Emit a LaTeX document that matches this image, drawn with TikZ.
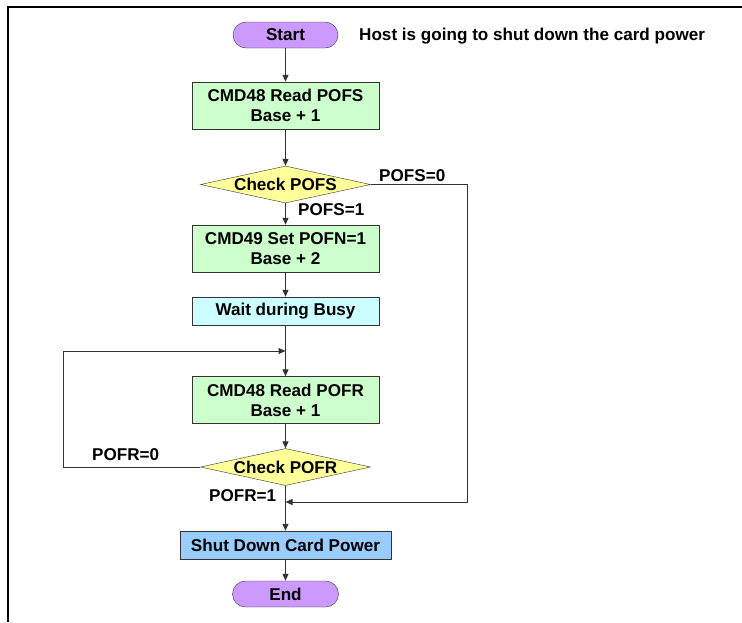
\documentclass[tikz,border=0pt]{standalone}
\usepackage{fontspec}
\setmainfont{Liberation Sans}
\usepackage{tikz}
\usetikzlibrary{arrows.meta,shapes.geometric}
\definecolor{uclarMor}{HTML}{CC99FF}
\definecolor{adimYesil}{HTML}{CCFFCC}
\definecolor{kararSari}{HTML}{FFFF99}
\definecolor{beklemeCamgobegi}{HTML}{CCFFFF}
\definecolor{gucMavi}{HTML}{99CCFF}
\definecolor{cizgiGri}{HTML}{333333}

\begin{document}
\begin{tikzpicture}[x=1pt,y=-1pt,
  yazi/.style={font=\bfseries\fontsize{17.1}{20}\selectfont,text=black},
  uc/.style={yazi,draw=cizgiGri,fill=uclarMor,rounded corners=13pt,
             minimum width=105pt,minimum height=26pt,inner sep=0pt},
  adim/.style={yazi,draw=cizgiGri,fill=adimYesil,minimum width=187pt,
               minimum height=47pt,inner sep=0pt,align=center},
  bekle/.style={adim,fill=beklemeCamgobegi,minimum height=28pt},
  karar/.style={yazi,diamond,draw=cizgiGri,fill=kararSari,aspect=4.6,
                inner sep=0pt,minimum width=170pt,minimum height=37pt},
  etiket/.style={yazi,inner sep=0pt,anchor=west},
  ok/.style={-{Triangle[length=7pt,width=6pt]},line width=1pt,cizgiGri}]
\useasboundingbox (0,0) rectangle (742,622);
\draw[line width=1.5pt] (8,622) -- (8,7) -- (742,7);
\node[uc] (start) at (285.5,35) {Start};
\node[etiket] (host) at (359,36) {Host is going to shut down the card power};
\node[adim] (rdpofs) at (285.5,105.5) {CMD48 Read POFS\\Base + 1};
\node[karar] (chkpofs) at (285.5,184.5) {Check POFS};
\node[adim] (setpofn) at (285.5,248.5) {CMD49 Set POFN=1\\Base + 2};
\node[bekle] (busy) at (285.5,311) {Wait during Busy};
\node[adim] (rdpofr) at (285.5,400) {CMD48 Read POFR\\Base + 1};
\node[karar] (chkpofr) at (285.5,467) {Check POFR};
\node[bekle,fill=gucMavi,minimum width=211pt] (shut) at (285.5,545) {Shut Down Card Power};
\node[uc,minimum width=106pt] (stop) at (285.5,594) {End};
\node[etiket] (pofs0) at (379,176) {POFS=0};
\node[etiket] (pofs1) at (298,210) {POFS=1};
\node[etiket] (pofr0) at (92,455) {POFR=0};
\node[etiket] (pofr1) at (209,496) {POFR=1};
\coordinate (loopin) at (285.5,351);
\coordinate (merge) at (285.5,502);
\coordinate (leftrail) at (63,0);
\coordinate (rightrail) at (467,0);
\draw[ok] (start) -- (rdpofs);
\draw[ok] (rdpofs) -- (chkpofs);
\draw[ok] (chkpofs) -- (setpofn);
\draw[ok] (setpofn) -- (busy);
\draw[ok] (busy) -- (rdpofr);
\draw[ok] (rdpofr) -- (chkpofr);
\draw[ok] (chkpofr) -- (shut);
\draw[ok] (shut) -- (stop);
\draw[ok] (chkpofs.east) -- (chkpofs.east -| rightrail) |- (merge);
\draw[ok] (chkpofr.west) -- (chkpofr.west -| leftrail) |- (loopin);
\end{tikzpicture}
\end{document}
